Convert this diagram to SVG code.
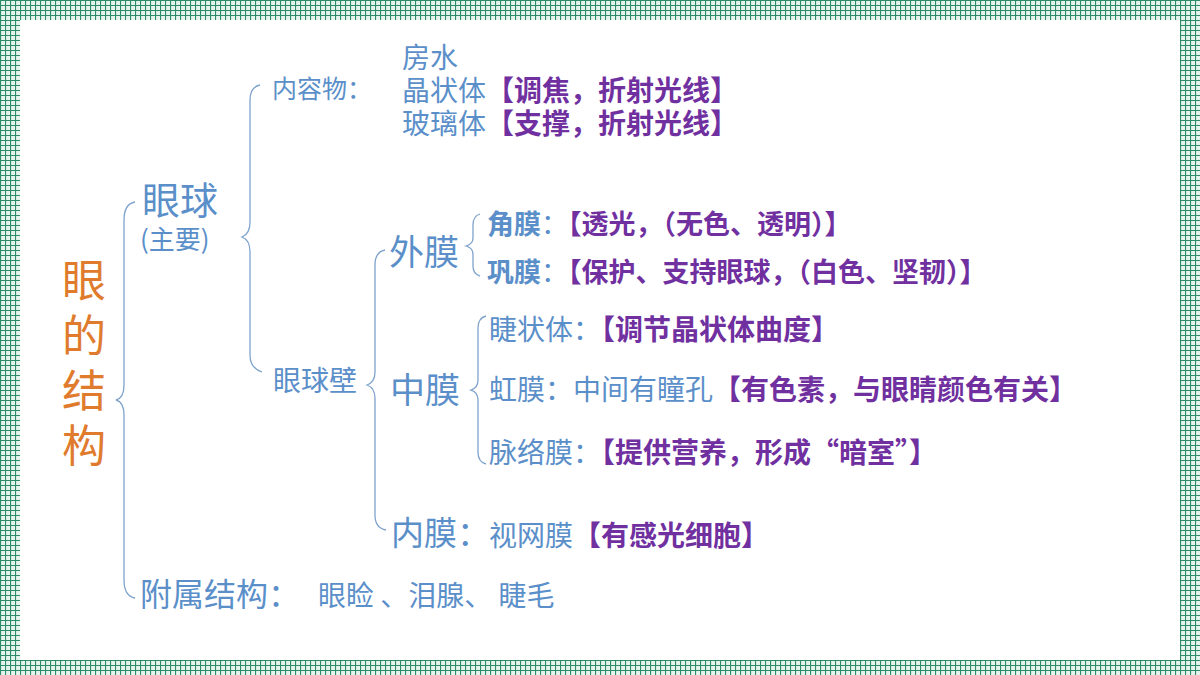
<svg xmlns="http://www.w3.org/2000/svg" width="1200" height="675" viewBox="0 0 1200 675">
<defs>
<pattern id="g" width="5" height="5" patternUnits="userSpaceOnUse">
<rect width="5" height="5" fill="#e6f4ee"/>
<path d="M0 0.5H5M0.5 0V5" stroke="#2e8b6a" stroke-width="1.2"/>
</pattern>
<style>
text{font-family:"Noto Sans CJK SC","Noto Sans",sans-serif}
.b{fill:#5b8fc9}
.p{fill:#7030a0;font-weight:bold}
.br{fill:none;stroke:#7fa3cc;stroke-width:1.3}
</style>
</defs>
<rect width="1200" height="675" fill="url(#g)"/>
<rect x="20" y="20" width="1160" height="640" fill="#fff"/>
<g id="connectors">
<path class="br" d="M135 202Q124 204 124 220V385Q124 398 116 400Q124 402 124 415V580Q124 596 135 598"/>
<path class="br" d="M260 85Q250 87 250 100V222Q250 234 242 237Q250 240 250 252V355Q250 368 262 372"/>
<path class="br" d="M385 250Q375 252 375 265V372Q375 382 367 385Q375 388 375 398V515Q375 528 386 530"/>
<path class="br" d="M480 214Q473 216 473 225V238Q473 244 466 246Q473 248 473 254V266Q473 274 480 276"/>
<path class="br" d="M486 316Q478 318 478 328V380Q478 388 471 390Q478 392 478 400V452Q478 462 486 464"/>
</g>
<g id="root"><text font-size="44" fill="#e07b2e" text-anchor="middle"><tspan x="84" y="297">眼</tspan><tspan x="84" y="352">的</tspan><tspan x="84" y="407">结</tspan><tspan x="84" y="462">构</tspan></text></g>
<g id="yanqiu"><text class="b" x="142" y="214" font-size="38">眼球</text><text class="b" x="140" y="249" font-size="26">(主要)</text></g>
<g id="neirongwu"><text class="b" x="272" y="98" font-size="25">内容物：</text>
<text x="402" y="68" font-size="28" class="b">房水</text>
<text x="402" y="101" font-size="28"><tspan class="b">晶状体</tspan><tspan class="p">【调焦，折射光线】</tspan></text>
<text x="402" y="134" font-size="28"><tspan class="b">玻璃体</tspan><tspan class="p">【支撑，折射光线】</tspan></text></g>
<g id="yanqiubi"><text class="b" x="273" y="391" font-size="28">眼球壁</text></g>
<g id="waimo"><text class="b" x="389" y="265" font-size="35">外膜</text>
<text x="487" y="234" font-size="27"><tspan class="b" font-weight="bold">角膜</tspan><tspan class="b">：</tspan><tspan class="p">【透光，（无色、透明）】</tspan></text>
<text x="487" y="282" font-size="27"><tspan class="b" font-weight="bold">巩膜</tspan><tspan class="b">：</tspan><tspan class="p">【保护、支持眼球，（白色、坚韧）】</tspan></text></g>
<g id="zhongmo"><text class="b" x="390" y="403" font-size="35">中膜</text>
<text x="489" y="340" font-size="28"><tspan class="b">睫状体：</tspan><tspan class="p">【调节晶状体曲度】</tspan></text>
<text x="489" y="400" font-size="28"><tspan class="b">虹膜：中间有瞳孔</tspan><tspan class="p">【有色素，与眼睛颜色有关】</tspan></text>
<text x="489" y="463" font-size="28"><tspan class="b">脉络膜：</tspan><tspan class="p">【提供营养，形成“暗室”】</tspan></text></g>
<g id="neimo"><text class="b" x="391" y="545" font-size="33">内膜：</text>
<text x="489" y="546" font-size="28"><tspan class="b">视网膜</tspan><tspan class="p">【有感光细胞】</tspan></text></g>
<g id="fushu"><text class="b" x="140" y="606" font-size="32">附属结构：</text><text class="b" x="318" y="606" font-size="28">眼睑 、泪腺、 睫毛</text></g>
</svg>
